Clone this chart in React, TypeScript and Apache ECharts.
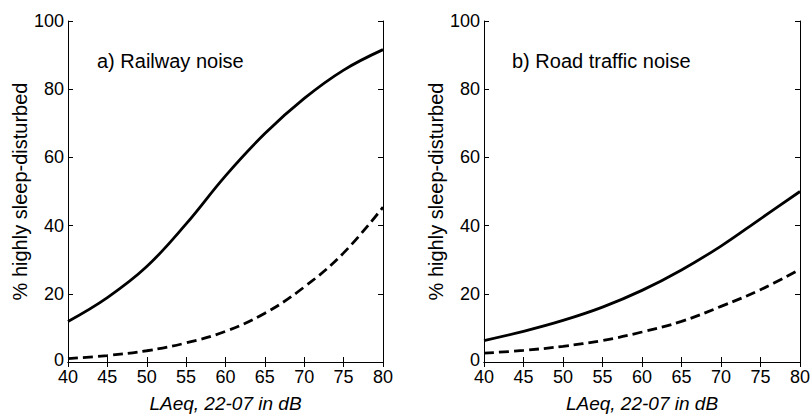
import React, { useEffect, useRef } from "react";
import * as echarts from "echarts";

const xValues = [40, 45, 50, 55, 60, 65, 70, 75, 80];
const railwaySolid = [11.9, 18.9, 28, 40.5, 54.6, 67, 77.3, 85.6, 91.6];
const railwayDashed = [1.0, 1.9, 3.3, 5.6, 9.0, 14.3, 22, 32, 45.4];
const roadSolid = [6.3, 9.0, 12.2, 16.1, 21, 27, 34, 42, 50];
const roadDashed = [2.6, 3.4, 4.6, 6.3, 8.8, 11.9, 16.3, 21.2, 27.2];
const panelTitles = ["a) Railway noise", "b) Road traffic noise"];
const xName = "LAeq, 22-07 in dB";
const yName = "% highly sleep-disturbed";

const FONT = "'Liberation Sans', Arial, sans-serif";

export default function App() {
  const ref = useRef<HTMLDivElement>(null);
  useEffect(() => {
    if (!ref.current) return;
    const chart = echarts.init(ref.current, undefined, { renderer: "svg" });
    const grids = [
      { left: 68, right: 427, top: 21, bottom: 52, containLabel: false, outerBoundsMode: "none" },
      { left: 484, right: 10, top: 21, bottom: 52, containLabel: false, outerBoundsMode: "none" },
    ];
    const xAxes: any[] = [];
    const yAxes: any[] = [];
    grids.forEach((_, gi) => {
      const baseX = {
        type: "value",
        gridIndex: gi,
        min: 40,
        max: 80,
        interval: 5,
        splitLine: { show: false },
        axisLine: { show: true, lineStyle: { color: "#000", width: 1 } },
        axisTick: { show: true, inside: true, length: 5, lineStyle: { color: "#000" } },
      };
      xAxes.push({
        ...baseX,
        position: "bottom",
        axisLabel: { color: "#000", fontSize: 18, lineHeight: 14, fontFamily: FONT, margin: 8, showMinLabel: true, showMaxLabel: true },
        name: xName,
        nameLocation: "middle",
        nameGap: 32,
        nameTextStyle: { color: "#000", fontSize: 19, lineHeight: 19, fontStyle: "italic", fontFamily: FONT },
      });
      xAxes.push({ ...baseX, position: "top", axisLabel: { show: false } });
      const baseY = {
        type: "value",
        gridIndex: gi,
        min: 0,
        max: 100,
        interval: 20,
        splitLine: { show: false },
        axisLine: { show: true, lineStyle: { color: "#000", width: 1 } },
        axisTick: { show: true, inside: true, length: 5, lineStyle: { color: "#000" } },
      };
      yAxes.push({
        ...baseY,
        position: "left",
        axisLabel: {
          color: "#000",
          fontSize: 18,
          lineHeight: 13,
          fontFamily: FONT,
          margin: 4,
          formatter: (v: number) => (v === 0 ? "{z|0}" : String(v)),
          rich: { z: { fontSize: 18, lineHeight: 13, fontFamily: FONT, color: "#000", padding: [0, 0, 5, 0] } },
        },
        name: yName,
        nameLocation: "middle",
        nameGap: 38,
        nameTextStyle: { color: "#000", fontSize: 20, fontFamily: FONT },
      });
      yAxes.push({ ...baseY, position: "right", axisLabel: { show: false } });
    });
    const mk = (data: number[], gi: number, dashed: boolean) => ({
      type: "line",
      xAxisIndex: gi * 2,
      yAxisIndex: gi * 2,
      data: xValues.map((x, i) => [x, data[i]]),
      smooth: 0.4,
      symbol: "none",
      lineStyle: { color: "#000", width: 2.8, type: dashed ? [10, 5] : "solid" },
    });
    chart.setOption({
      animation: false,
      backgroundColor: "#fff",
      title: panelTitles.map((t, i) => ({
        text: t,
        left: i === 0 ? 97 : 512,
        top: 51,
        padding: 0,
        textStyle: { color: "#000", fontSize: 20, fontWeight: "normal", fontFamily: FONT },
      })),
      grid: grids,
      xAxis: xAxes,
      yAxis: yAxes,
      series: [
        mk(railwaySolid, 0, false),
        mk(railwayDashed, 0, true),
        mk(roadSolid, 1, false),
        mk(roadDashed, 1, true),
      ],
    });
    return () => chart.dispose();
  }, []);
  return <div ref={ref} style={{ width: 810, height: 414, position: "fixed", left: 0, top: 0 }} />;
}
